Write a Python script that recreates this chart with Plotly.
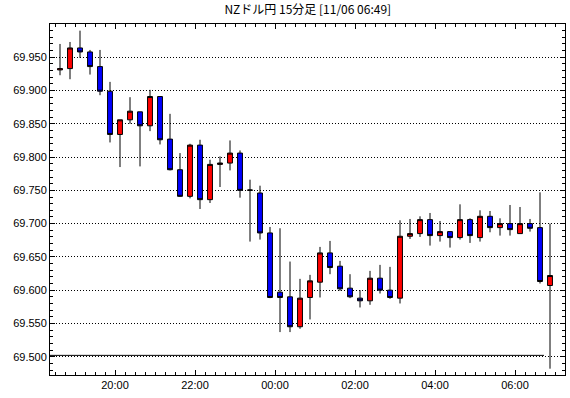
import plotly.graph_objects as go

times = ["18:30","18:45","19:00","19:15","19:30","19:45","20:00","20:15","20:30","20:45",
         "21:00","21:15","21:30","21:45","22:00","22:15","22:30","22:45","23:00","23:15",
         "23:30","23:45","00:00","00:15","00:30","00:45","01:00","01:15","01:30","01:45",
         "02:00","02:15","02:30","02:45","03:00","03:15","03:30","03:45","04:00","04:15",
         "04:30","04:45","05:00","05:15","05:30","05:45","06:00","06:15","06:30","06:45"]
opens = [69.931,69.933,69.964,69.958,69.936,69.899,69.834,69.856,69.868,69.847,
         69.891,69.827,69.781,69.741,69.818,69.736,69.789,69.791,69.806,69.750,
         69.746,69.686,69.597,69.590,69.545,69.589,69.612,69.656,69.636,69.603,
         69.588,69.584,69.618,69.600,69.588,69.681,69.685,69.706,69.682,69.688,
         69.679,69.706,69.679,69.711,69.694,69.700,69.685,69.700,69.694,69.607]
highs = [69.970,69.973,69.990,69.961,69.961,69.913,69.856,69.890,69.868,69.901,
         69.891,69.865,69.806,69.820,69.826,69.796,69.801,69.825,69.810,69.766,
         69.757,69.695,69.693,69.643,69.617,69.623,69.665,69.674,69.644,69.624,
         69.600,69.629,69.638,69.635,69.705,69.707,69.711,69.716,69.704,69.688,
         69.729,69.708,69.720,69.719,69.708,69.728,69.725,69.707,69.747,69.700]
lows = [69.923,69.917,69.949,69.924,69.893,69.822,69.785,69.850,69.786,69.839,
        69.819,69.780,69.740,69.738,69.722,69.731,69.755,69.780,69.739,69.673,
        69.676,69.588,69.537,69.537,69.542,69.556,69.589,69.624,69.599,69.588,
        69.574,69.578,69.595,69.587,69.580,69.677,69.680,69.667,69.673,69.664,
        69.676,69.671,69.673,69.687,69.682,69.682,69.685,69.688,69.610,69.482]
closes = [69.933,69.964,69.958,69.936,69.899,69.834,69.856,69.869,69.847,69.891,
          69.826,69.781,69.741,69.818,69.736,69.789,69.791,69.806,69.750,69.7505,
          69.686,69.589,69.589,69.545,69.588,69.614,69.656,69.634,69.602,69.590,
          69.584,69.618,69.600,69.589,69.681,69.685,69.706,69.682,69.688,69.679,
          69.706,69.682,69.711,69.694,69.700,69.691,69.700,69.693,69.613,69.622]
tick_labels = ["20:00","22:00","00:00","02:00","04:00","06:00"]
y_ticks = [69.50, 69.55, 69.60, 69.65, 69.70, 69.75, 69.80, 69.85, 69.90, 69.95]
ref_level = 69.502
title_text = "NZドル円 15分足 [11/06 06:49]"

xs = list(range(len(times)))
tickvals = [times.index(t) - 0.5 for t in tick_labels]

fig = go.Figure()
fig.add_trace(go.Candlestick(
    x=xs, open=opens, high=highs, low=lows, close=closes,
    increasing=dict(line=dict(color="black", width=1), fillcolor="#ff0000"),
    decreasing=dict(line=dict(color="black", width=1), fillcolor="#0000ff"),
    whiskerwidth=0, showlegend=False, hoverinfo="skip",
))

fig.add_shape(type="line", xref="x", yref="y", x0=-1, x1=48.4, y0=ref_level, y1=ref_level,
              line=dict(color="black", width=1))

fig.update_layout(
    width=570, height=398,
    margin=dict(l=50, r=5, t=24, b=23),
    paper_bgcolor="white", plot_bgcolor="white",
    title=dict(text=title_text, x=0.54, xanchor="center", y=0.985, yanchor="top",
               font=dict(family="Noto Sans CJK JP", size=12, color="black")),
    font=dict(family="Liberation Sans", size=11, color="black"),
)
fig.update_xaxes(
    range=[-1, 50.5], rangeslider=dict(visible=False),
    tickmode="array", tickvals=tickvals, ticktext=tick_labels,
    ticks="inside", ticklen=5, tickcolor="black",
    minor=dict(ticks="inside", ticklen=3, tick0=-0.5, dtick=1, tickcolor="black", showgrid=False),
    showgrid=False, showline=True, linecolor="black", linewidth=1, mirror="allticks",
    zeroline=False, tickfont=dict(size=11, color="black"),
)
fig.update_yaxes(
    range=[69.4725, 70.0],
    tickmode="array", tickvals=y_ticks, ticktext=[f"{v:.3f}" for v in y_ticks],
    ticks="inside", ticklen=5, tickcolor="black",
    minor=dict(ticks="inside", ticklen=3, tick0=69.5, dtick=0.01, tickcolor="black", showgrid=False),
    showgrid=True, gridcolor="black", griddash="1px,2px", gridwidth=1,
    showline=True, linecolor="black", linewidth=1, mirror="allticks",
    zeroline=False, tickfont=dict(size=11, color="black"),
)

fig.write_html("out.html")
